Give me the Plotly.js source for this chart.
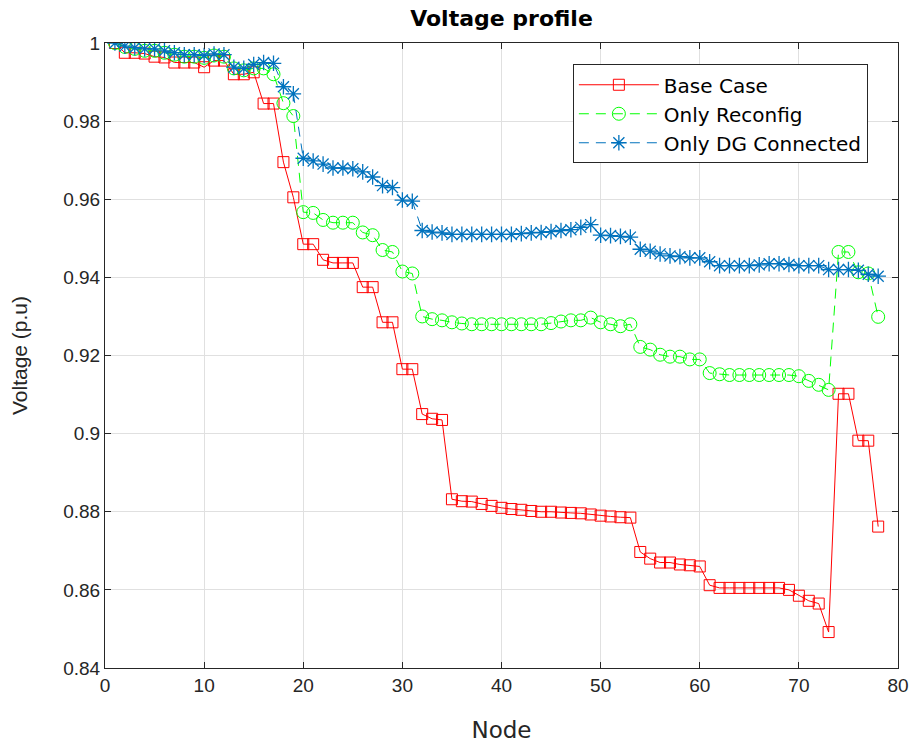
<!DOCTYPE html>
<html>
<head>
<meta charset="utf-8">
<script src="https://cdn.plot.ly/plotly-3.0.1.min.js"></script>
<style>html,body{margin:0;padding:0;background:#fff;}#chart{width:914px;height:747px;}</style>
</head>
<body>
<div id="chart"></div>
<script>
var nodes = [];
for (var i = 1; i <= 78; i++) nodes.push(i);

var baseCase = [1.0,0.9975,0.9975,0.9973,0.9965,0.9963,0.995,0.995,0.995,0.9938,
0.9955,0.9955,0.992,0.992,0.9925,0.9845,0.9845,0.9695,0.9605,0.9485,
0.9485,0.9445,0.9437,0.9437,0.9437,0.9375,0.9375,0.9285,0.9285,0.9165,
0.9165,0.905,0.9038,0.9035,0.8832,0.8827,0.8826,0.882,0.8815,0.881,
0.8807,0.8805,0.8802,0.88,0.88,0.8798,0.8797,0.8796,0.8793,0.879,
0.8788,0.8786,0.8785,0.8697,0.868,0.867,0.867,0.8665,0.8663,0.866,
0.8612,0.8605,0.8605,0.8605,0.8605,0.8605,0.8605,0.8605,0.86,0.8585,
0.8572,0.8565,0.8492,0.9102,0.9102,0.8982,0.8982,0.8762];

var onlyReconfig = [1.0,0.999,0.9985,0.998,0.998,0.9975,0.997,0.9965,0.9965,0.9962,
0.9968,0.9965,0.9935,0.993,0.9935,0.9935,0.992,0.9846,0.9813,0.9567,
0.9565,0.9547,0.954,0.954,0.954,0.9515,0.9508,0.947,0.9465,0.9415,
0.941,0.93,0.9293,0.929,0.9285,0.9282,0.928,0.928,0.928,0.928,
0.928,0.928,0.928,0.928,0.9283,0.9287,0.929,0.929,0.9297,0.9285,
0.928,0.9275,0.928,0.9222,0.9215,0.9202,0.9197,0.9197,0.919,0.919,
0.9155,0.9152,0.915,0.915,0.915,0.915,0.915,0.915,0.915,0.9147,
0.9135,0.9125,0.9112,0.9465,0.9465,0.9413,0.941,0.9299];

var onlyDG = [1.0,0.9992,0.9988,0.9985,0.9985,0.998,0.9975,0.997,0.997,0.9968,
0.9972,0.997,0.9938,0.9935,0.9945,0.995,0.9948,0.9888,0.987,0.9705,
0.9698,0.969,0.968,0.968,0.9678,0.967,0.9657,0.9635,0.963,0.9598,
0.9595,0.952,0.9516,0.9514,0.951,0.951,0.951,0.951,0.951,0.951,
0.951,0.9512,0.9514,0.9515,0.9517,0.952,0.9522,0.9528,0.9535,0.9508,
0.9507,0.9505,0.9503,0.9472,0.9467,0.946,0.9455,0.9453,0.945,0.945,
0.944,0.943,0.943,0.943,0.943,0.9432,0.9435,0.9435,0.9433,0.943,
0.943,0.943,0.942,0.942,0.942,0.9418,0.9408,0.9403];

var xTicks = [0,10,20,30,40,50,60,70,80];
var yTicks = [0.84,0.86,0.88,0.9,0.92,0.94,0.96,0.98,1];
var yTickText = ['0.84','0.86','0.88','0.9','0.92','0.94','0.96','0.98','1'];

var FONT = 'DejaVu Sans, Liberation Sans, sans-serif';
var TFONT = 'Liberation Sans, Arial, sans-serif';

var traces = [
  {x: nodes, y: baseCase, name: 'Base Case', type: 'scatter', mode: 'lines+markers',
   line: {color: '#FF0000', width: 1},
   marker: {symbol: 'square-open', size: 11, color: '#FF0000', line: {width: 1, color: '#FF0000'}}},
  {x: nodes, y: onlyReconfig, name: 'Only Reconfig', type: 'scatter', mode: 'lines+markers',
   line: {color: '#00FF00', width: 1, dash: '10px,7px'},
   marker: {symbol: 'circle-open', size: 13, color: '#00FF00', line: {width: 1, color: '#00FF00'}}},
  {x: nodes, y: onlyDG, name: 'Only DG Connected', type: 'scatter', mode: 'lines+markers',
   line: {color: '#0072BD', width: 1, dash: '10px,7px'},
   marker: {symbol: 'asterisk-open', size: 13, color: '#0072BD', line: {width: 1.3, color: '#0072BD'}}}
];

var layout = {
  width: 914, height: 747,
  margin: {l: 105, r: 16, t: 43, b: 79, pad: 0},
  paper_bgcolor: '#ffffff', plot_bgcolor: '#ffffff',
  font: {family: FONT, color: '#262626', size: 18},
  title: {text: '<b>Voltage profile</b>', x: 0.5, xref: 'paper', y: 0.976, yanchor: 'middle',
          font: {family: FONT, size: 22, color: '#000000'}},
  showlegend: true,
  legend: {x: 0.59, y: 0.966, xanchor: 'left', yanchor: 'top',
           itemwidth: 80,
           bgcolor: '#ffffff', bordercolor: '#262626', borderwidth: 1,
           font: {family: FONT, size: 20, color: '#000000'}, tracegroupgap: 0},
  xaxis: {range: [0, 80], tickvals: xTicks, ticktext: xTicks.map(String),
          showgrid: true, gridcolor: '#e0e0e0', gridwidth: 1, zeroline: false,
          showline: true, linecolor: '#262626', linewidth: 1, mirror: 'ticks',
          ticks: 'inside', ticklen: 6, tickcolor: '#262626',
          tickfont: {family: TFONT, size: 19, color: '#262626'},
          title: {text: 'Node', font: {family: FONT, size: 23, color: '#262626'}, standoff: 27}},
  yaxis: {range: [0.84, 1], tickvals: yTicks, ticktext: yTickText,
          showgrid: true, gridcolor: '#e0e0e0', gridwidth: 1, zeroline: false,
          showline: true, linecolor: '#262626', linewidth: 1, mirror: 'ticks',
          ticks: 'inside', ticklen: 6, tickcolor: '#262626',
          tickfont: {family: TFONT, size: 19, color: '#262626'},
          title: {text: 'Voltage (p.u)', font: {family: TFONT, size: 21, color: '#262626'}, standoff: 29}}
};

Plotly.newPlot('chart', traces, layout, {displayModeBar: false, staticPlot: true});
</script>
</body>
</html>
